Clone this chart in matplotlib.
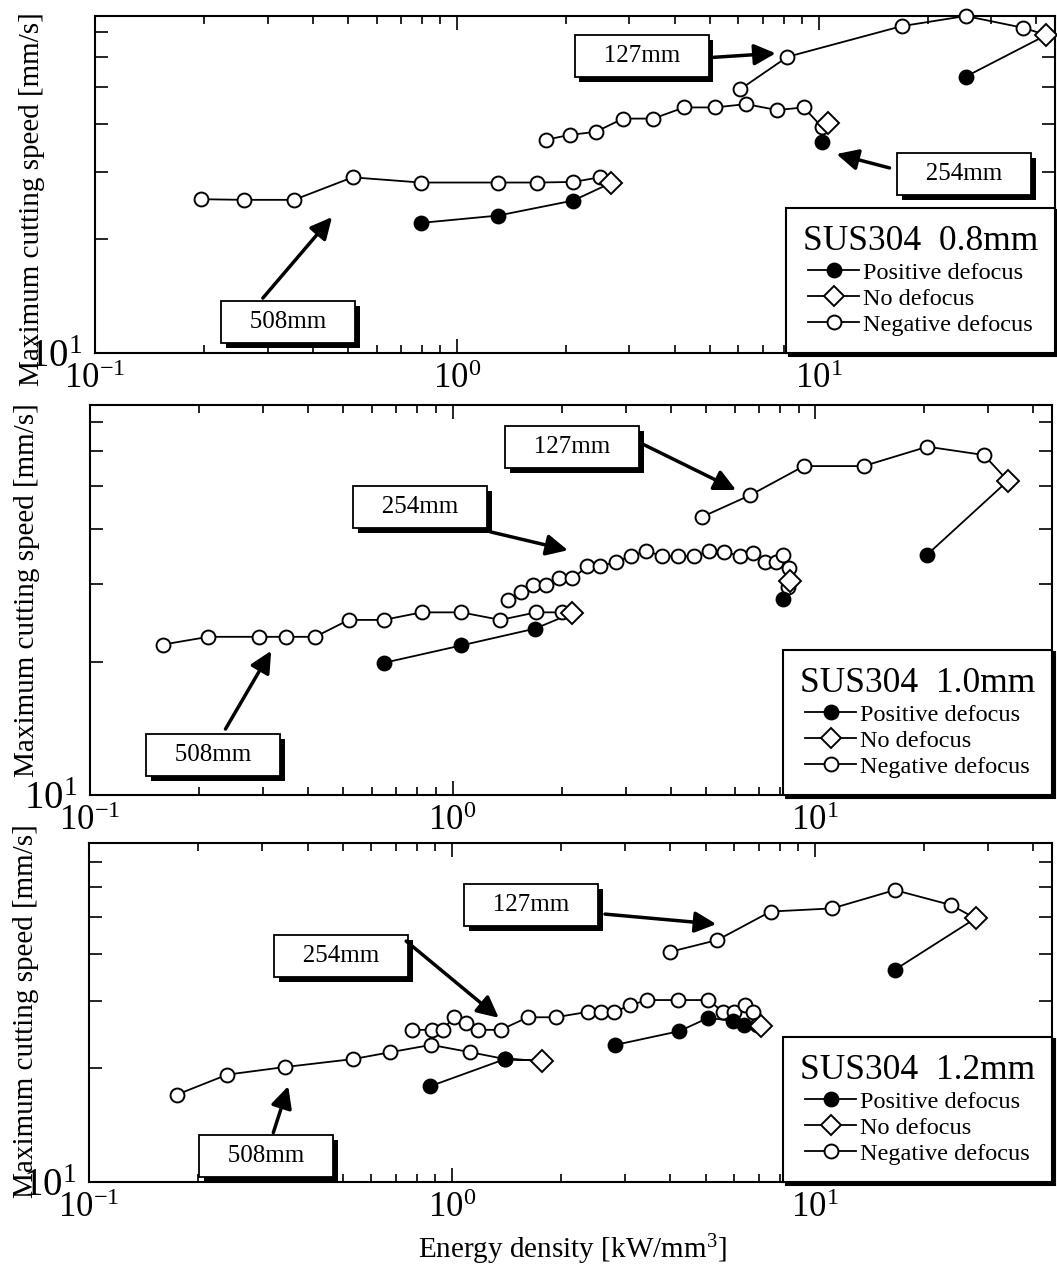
import matplotlib.pyplot as plt
import matplotlib.patheffects as pe
from matplotlib.lines import Line2D
from matplotlib.ticker import LogLocator, NullFormatter

plt.rcParams['font.family'] = ['Liberation Serif', 'DejaVu Serif']
plt.rcParams['mathtext.fontset'] = 'custom'
plt.rcParams['mathtext.rm'] = 'Liberation Serif'
plt.rcParams['mathtext.it'] = 'Liberation Serif:italic'

# ---- SUS304 0.8mm ----
a127_pos_x = [25.5]
a127_pos_y = [53.4]
a127_zero = (42.6, 68.7)
a127_neg_x = [6.06, 8.20, 16.97, 25.5, 36.7]
a127_neg_y = [49.4, 60.2, 72.5, 77.1, 71.8]

a254_pos_x = [10.2]
a254_pos_y = [36.0]
a254_zero = (10.6, 40.2)
a254_neg_x = [1.76, 2.05, 2.42, 2.88, 3.49, 4.25, 5.17, 6.30, 7.68, 9.09, 10.2]
a254_neg_y = [36.4, 37.5, 38.2, 41.4, 41.4, 44.3, 44.3, 45.2, 43.6, 44.3, 39.4]

a508_pos_x = [0.795, 1.30, 2.10]
a508_pos_y = [22.0, 23.0, 25.2]
a508_zero = (2.66, 28.0)
a508_neg_x = [0.196, 0.258, 0.355, 0.515, 0.795, 1.30, 1.67, 2.10, 2.48]
a508_neg_y = [25.4, 25.3, 25.3, 29.0, 28.1, 28.1, 28.1, 28.2, 29.0]

# ---- SUS304 1.0mm ----
b127_pos_x = [20.3]
b127_pos_y = [34.9]
b127_zero = (34.0, 51.4)
b127_neg_x = [4.88, 6.62, 9.31, 13.6, 20.4, 29.2]
b127_neg_y = [42.6, 47.7, 55.5, 55.5, 61.4, 58.8]

b254_pos_x = [8.14]
b254_pos_y = [27.8]
b254_zero = (8.51, 30.5)
b254_neg_x = [1.42, 1.54, 1.67, 1.81, 1.96, 2.14, 2.35, 2.55, 2.82, 3.10, 3.42, 3.78,
              4.19, 4.64, 5.11, 5.62, 6.21, 6.74, 7.27, 7.81, 8.17, 8.48, 8.42]
b254_neg_y = [27.6, 28.8, 29.9, 29.9, 30.9, 30.9, 32.9, 32.9, 33.7, 34.7, 35.7, 34.7,
              34.7, 34.7, 35.7, 35.5, 34.7, 35.3, 33.7, 33.7, 34.9, 32.7, 29.6]

b508_pos_x = [0.645, 1.057, 1.69]
b508_pos_y = [19.9, 21.8, 23.8]
b508_zero = (2.14, 25.8)
b508_neg_x = [0.159, 0.212, 0.292, 0.348, 0.418, 0.517, 0.645, 0.822, 1.057, 1.355, 1.70, 2.00]
b508_neg_y = [21.9, 22.8, 22.8, 22.8, 22.8, 24.9, 24.9, 25.9, 25.9, 24.9, 25.9, 25.9]

# ---- SUS304 1.2mm ----
c127_pos_x = [16.6]
c127_pos_y = [36.3]
c127_zero = (27.7, 49.6)
c127_neg_x = [4.00, 5.39, 7.55, 11.16, 16.6, 23.7]
c127_neg_y = [40.5, 43.5, 51.7, 52.7, 58.9, 53.8]

c254_pos_x = [2.82, 4.23, 5.08, 5.95, 6.38]
c254_pos_y = [23.0, 25.0, 27.1, 26.6, 25.9]
c254_zero = (7.11, 25.8)
c254_neg_x = [0.776, 0.881, 0.945, 1.013, 1.093, 1.179, 1.363, 1.618, 1.931, 2.364, 2.567,
              2.804, 3.103, 3.456, 4.204, 5.08, 5.59, 5.99, 6.42, 6.75, 6.93]
c254_neg_y = [25.2, 25.2, 25.2, 27.3, 26.3, 25.2, 25.2, 27.2, 27.2, 28.1, 28.1,
              28.1, 29.3, 30.2, 30.2, 30.2, 28.1, 28.1, 29.3, 28.1, 25.9]

c508_pos_x = [0.872, 1.401]
c508_pos_y = [17.9, 21.1]
c508_zero = (1.766, 20.9)
c508_neg_x = [0.1745, 0.2405, 0.346, 0.534, 0.677, 0.876, 1.123, 1.401]
c508_neg_y = [17.0, 19.2, 20.1, 21.1, 22.0, 23.0, 22.0, 21.1]

thickness = ['0.8mm', '1.0mm', '1.2mm']
focal = ['127mm', '254mm', '508mm']
labels = ['Positive defocus', 'No defocus', 'Negative defocus']

groups = [
    [(a127_pos_x, a127_pos_y, a127_zero, a127_neg_x, a127_neg_y),
     (a254_pos_x, a254_pos_y, a254_zero, a254_neg_x, a254_neg_y),
     (a508_pos_x, a508_pos_y, a508_zero, a508_neg_x, a508_neg_y)],
    [(b127_pos_x, b127_pos_y, b127_zero, b127_neg_x, b127_neg_y),
     (b254_pos_x, b254_pos_y, b254_zero, b254_neg_x, b254_neg_y),
     (b508_pos_x, b508_pos_y, b508_zero, b508_neg_x, b508_neg_y)],
    [(c127_pos_x, c127_pos_y, c127_zero, c127_neg_x, c127_neg_y),
     (c254_pos_x, c254_pos_y, c254_zero, c254_neg_x, c254_neg_y),
     (c508_pos_x, c508_pos_y, c508_zero, c508_neg_x, c508_neg_y)],
]

# label box centre, arrow start, arrow tip (data coords) for 127/254/508
notes = [
    [((3.24, 60.5), (5.10, 60.0), (7.61, 61.5)),
     ((25.2, 29.6), (15.7, 30.7), (11.2, 33.4)),
     ((0.341, 12.07), (0.291, 13.95), (0.452, 22.8))],
    [((2.14, 61.3), (3.35, 62.2), (6.05, 49.0)),
     ((0.812, 44.8), (1.271, 39.4), (2.08, 35.8)),
     ((0.219, 12.3), (0.2364, 14.1), (0.316, 21.2))],
    [((1.65, 53.8), (2.64, 50.9), (5.35, 47.9)),
     ((0.496, 39.5), (0.748, 43.2), (1.346, 27.1)),
     ((0.308, 11.7), (0.322, 13.5), (0.354, 17.9))],
]

W, H = 1057, 1275
boxes = [(95, 16, 1055, 353), (90, 405, 1052, 795), (89, 843, 1052, 1182)]
ymax = [77.1, 76.3, 78.4]
ylab_y = [0.457, 0.526, 0.504]

fig = plt.figure(figsize=(W / 100, H / 100), dpi=100)

for i in range(3):
    l, t, r, b = boxes[i]
    ax = fig.add_axes([l / W, 1 - b / H, (r - l) / W, (b - t) / H])
    ax.set_xscale('log')
    ax.set_yscale('log')
    ax.set_xlim(0.1, 45)
    ax.set_ylim(10, ymax[i])

    for pos_x, pos_y, zero, neg_x, neg_y in groups[i]:
        px = pos_x + [zero[0]] + neg_x[::-1]
        py = pos_y + [zero[1]] + neg_y[::-1]
        ax.plot(px, py, '-', color='k', lw=1.3, clip_on=False, zorder=2)
        ax.plot(neg_x, neg_y, 'o', mfc='white', mec='k', mew=1.4, ms=10, clip_on=False, zorder=3)
        ax.plot(pos_x, pos_y, 'o', mfc='k', mec='k', mew=1.4, ms=10, clip_on=False, zorder=3)
        ax.plot([zero[0]], [zero[1]], 'D', mfc='white', mec='k', mew=1.4, ms=11, clip_on=False, zorder=4)

    for name, (bc, st, tip) in zip(focal, notes[i]):
        txt = ax.text(bc[0], bc[1], '   ' + name + '   ', ha='center', va='center', fontsize=18,
                      zorder=6, bbox=dict(boxstyle='square,pad=0.4', fc='white', ec='k', lw=1.3))
        txt.get_bbox_patch().set_path_effects(
            [pe.withSimplePatchShadow(offset=(3.5, -3.5), shadow_rgbFace='k', alpha=1)])
        ax.annotate('', xy=tip, xytext=st, zorder=6,
                    arrowprops=dict(arrowstyle='-|>,head_length=0.65,head_width=0.32', lw=2.5,
                                    color='k', shrinkA=0, shrinkB=0, mutation_scale=20))

    ax.xaxis.set_major_locator(LogLocator(base=10))
    ax.xaxis.set_minor_locator(LogLocator(base=10, subs=range(2, 10)))
    ax.yaxis.set_major_locator(LogLocator(base=10))
    ax.yaxis.set_minor_locator(LogLocator(base=10, subs=range(2, 10)))
    ax.xaxis.set_minor_formatter(NullFormatter())
    ax.yaxis.set_minor_formatter(NullFormatter())
    ax.tick_params(which='both', direction='in', top=True, right=True, width=1.2)
    ax.tick_params(axis='x', which='major', length=10, labelsize=25, pad=7)
    ax.tick_params(axis='x', which='minor', length=5.5)
    ax.tick_params(axis='y', which='major', length=10, labelsize=28, pad=9)
    ax.tick_params(axis='y', which='minor', length=9.5)
    for sp in ax.spines.values():
        sp.set_linewidth(1.5)

    ax.set_ylabel('Maximum cutting speed [mm/s]', fontsize=21)
    ax.yaxis.set_label_coords(-0.052, ylab_y[i])

    handles = [
        Line2D([], [], color='k', lw=1.3, marker='o', mfc='k', mec='k', mew=1.4, ms=10),
        Line2D([], [], color='k', lw=1.3, marker='D', mfc='white', mec='k', mew=1.4, ms=10),
        Line2D([], [], color='k', lw=1.3, marker='o', mfc='white', mec='k', mew=1.4, ms=10),
    ]
    leg = ax.legend(handles, labels, title='SUS304  ' + thickness[i], loc='lower right',
                    bbox_to_anchor=(1, 0), borderaxespad=0, fontsize=17.5, title_fontsize=25.5,
                    fancybox=False, edgecolor='k', framealpha=1, handlelength=2.1,
                    handletextpad=0.15, labelspacing=0.17, borderpad=0.7,
                    shadow={'color': 'k', 'alpha': 1})
    leg.get_frame().set_linewidth(1.5)
    leg.set_zorder(7)

fig.text(572 / W, 1 - 1250 / H, 'Energy density [kW/mm$^3$]', ha='center', va='center', fontsize=21)

fig.savefig('out.png', dpi=100)
